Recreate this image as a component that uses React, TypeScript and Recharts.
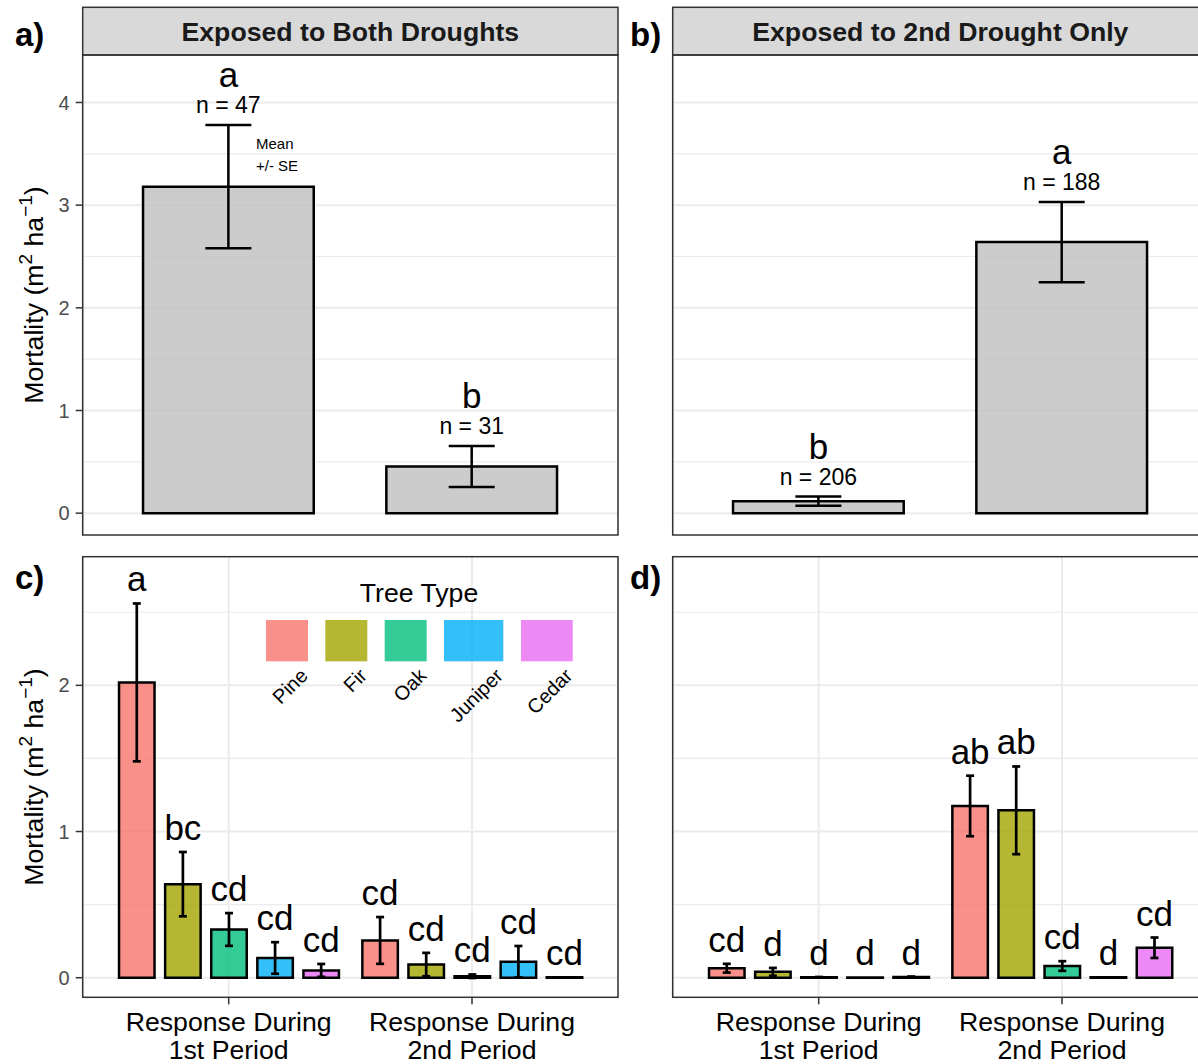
import React from "react";
import { Bar, BarChart, CartesianGrid, ErrorBar, LabelList, XAxis, YAxis } from "recharts";

const FONT = "'Liberation Sans', Arial, Helvetica, sans-serif";

// ---- data ----
const periods = ["Response During\n1st Period", "Response During\n2nd Period"];
const stripTitles = ["Exposed to Both Droughts", "Exposed to 2nd Drought Only"];
const panelTags = ["a)", "b)", "c)", "d)"];
const treeTypes = ["Pine", "Fir", "Oak", "Juniper", "Cedar"];
const treeColors = ["#F8766D", "#A3A500", "#00BF7D", "#00B0F6", "#E76BF3"];

// all trees pooled
const bothMean = [3.18, 0.455];
const bothSe = [0.6, 0.2];
const bothN = [47, 31];
const bothLetters = ["a", "b"];

const secondMean = [0.117, 2.64];
const secondSe = [0.045, 0.39];
const secondN = [206, 188];
const secondLetters = ["b", "a"];

// by tree type, one row per period
const bothTreeMean = [
  [2.02, 0.64, 0.33, 0.135, 0.05],
  [0.255, 0.09, 0.01, 0.11, 0.003],
];
const bothTreeSe = [
  [0.54, 0.22, 0.112, 0.108, 0.044],
  [0.16, 0.08, 0.012, 0.107, 0],
];
const bothTreeLetters = [
  ["a", "bc", "cd", "cd", "cd"],
  ["cd", "cd", "cd", "cd", "cd"],
];

const secondTreeMean = [
  [0.065, 0.04, 0.003, 0.002, 0.005],
  [1.175, 1.145, 0.08, 0.003, 0.205],
];
const secondTreeSe = [
  [0.03, 0.027, 0.002, 0, 0.003],
  [0.207, 0.3, 0.033, 0, 0.07],
];
const secondTreeLetters = [
  ["cd", "d", "d", "d", "d"],
  ["ab", "ab", "cd", "d", "cd"],
];

// ---- layout ----
const W = 1220;
const H = 1064;
const AXIS_W = 60;
const AXIS_H = 30;
const COLS = [
  { left: 82.7, right: 618 },
  { left: 672.7, right: 1208 },
];
const ROWS = [
  { top: 55, bottom: 535, domain: [-0.2125, 4.4625], ticks: [0, 1, 2, 3, 4], minor: [0.5, 1.5, 2.5, 3.5] },
  { top: 556.7, bottom: 997.3, domain: [-0.134, 2.88], ticks: [0, 1, 2], minor: [0.5, 1.5, 2.5] },
];
const ppu = (r: (typeof ROWS)[number]) => (r.bottom - r.top) / (r.domain[1] - r.domain[0]);
const BAND_PAD = ((COLS[0].right - COLS[0].left) * 0.1) / 2.2;
const STRIP_TOP = 7.3;
const legendKeys = [
  { x: 266, w: 42 },
  { x: 325.3, w: 42 },
  { x: 384.7, w: 42 },
  { x: 444, w: 59.3 },
  { x: 521, w: 51.7 },
];

const pooled = (means: number[], ses: number[], ns: number[], letters: string[]) =>
  periods.map((p, i) => ({ period: p, mean: means[i], se: ses[i], lab: `${letters[i]}|${ses[i]}|${ns[i]}` }));

const byTree = (means: number[][], ses: number[][], letters: string[][]) =>
  periods.map((p, i) => {
    const row: Record<string, any> = { period: p };
    treeTypes.forEach((t, j) => {
      row[t] = means[i][j];
      row[`${t}_se`] = ses[i][j];
      row[`${t}_lab`] = `${letters[i][j]}|${ses[i][j]}`;
    });
    return row;
  });

const PeriodTick = ({ x, y, payload }: any) => (
  <text x={x} y={y} textAnchor="middle" fontSize={26.67} fill="#000" fontFamily={FONT}>
    {String(payload.value)
      .split("\n")
      .map((line, i) => (
        <tspan key={i} x={x} dy={i === 0 ? 24.4 : 28.3}>
          {line}
        </tspan>
      ))}
  </text>
);

const pooledLabel = (scale: number) => (props: any) => {
  const vb = props.viewBox ?? props;
  const [letter, se, n] = String(props.value).split("|");
  const cx = vb.x + vb.width / 2;
  const top = Math.min(vb.y, vb.y + vb.height) - Number(se) * scale;
  return (
    <g>
      <text x={cx} y={top - 38} textAnchor="middle" fontSize={35} fontFamily={FONT} fill="#000">
        {letter}
      </text>
      <text x={cx} y={top - 12} textAnchor="middle" fontSize={23} fontFamily={FONT} fill="#000">
        {`n = ${n}`}
      </text>
    </g>
  );
};

const treeLabel = (scale: number) => (props: any) => {
  const vb = props.viewBox ?? props;
  const [letter, se] = String(props.value).split("|");
  const cx = vb.x + vb.width / 2;
  const top = Math.min(vb.y, vb.y + vb.height) - Number(se) * scale;
  return (
    <text x={cx} y={top - 12} textAnchor="middle" fontSize={35} fontFamily={FONT} fill="#000">
      {letter}
    </text>
  );
};

type PanelProps = { col: number; row: number; data: any[]; children: React.ReactNode; barGap?: number };

const Panel = ({ col, row, data, children, barGap }: PanelProps) => {
  const c = COLS[col];
  const r = ROWS[row];
  const showY = col === 0;
  const yW = showY ? AXIS_W : 0;
  return (
    <div style={{ position: "absolute", left: 0, top: 0 }}>
      <BarChart
        width={W}
        height={H}
        data={data}
        barGap={barGap}
        margin={{ top: r.top, bottom: H - r.bottom - AXIS_H, left: c.left - yW, right: W - c.right }}
      >
        <CartesianGrid stroke="#EBEBEB" strokeWidth={1.2} vertical={false} horizontalValues={r.minor} />
        <CartesianGrid stroke="#EBEBEB" strokeWidth={2} horizontalValues={r.ticks} />
        <XAxis
          dataKey="period"
          type="category"
          interval={0}
          padding={{ left: BAND_PAD, right: BAND_PAD }}
          axisLine={false}
          tickLine={{ stroke: "#333333", strokeWidth: 1.5 }}
          tickSize={7}
          tickMargin={2}
          height={AXIS_H}
          tick={row === 1 ? <PeriodTick /> : false}
        />
        <YAxis
          type="number"
          domain={r.domain}
          ticks={r.ticks}
          allowDataOverflow
          hide={!showY}
          width={yW}
          axisLine={false}
          tickLine={{ stroke: "#333333", strokeWidth: 1.5 }}
          tickSize={7}
          tickMargin={6}
          tick={{ fontSize: 20, fill: "#4D4D4D", fontFamily: FONT }}
        />
        {children}
      </BarChart>
    </div>
  );
};

const pooledBars = (row: number) => (
  <Bar
    dataKey="mean"
    fill="#BFBFBF"
    fillOpacity={0.8}
    stroke="#000"
    strokeWidth={2.5}
    barSize={170.7}
    isAnimationActive={false}
  >
    <ErrorBar dataKey="se" width={23} stroke="#000" strokeWidth={2.5} direction="y" isAnimationActive={false} />
    <LabelList dataKey="lab" content={pooledLabel(ppu(ROWS[row]))} />
  </Bar>
);

const treeBars = (row: number) =>
  treeTypes.map((t, j) => (
    <Bar
      key={t}
      dataKey={t}
      fill={treeColors[j]}
      fillOpacity={0.8}
      stroke="#000"
      strokeWidth={2.5}
      barSize={35.5}
      isAnimationActive={false}
    >
      <ErrorBar dataKey={`${t}_se`} width={4} stroke="#000" strokeWidth={2.7} direction="y" isAnimationActive={false} />
      <LabelList dataKey={`${t}_lab`} content={treeLabel(ppu(ROWS[row]))} />
    </Bar>
  ));

const YTitle = ({ cy }: { cy: number }) => (
  <text transform={`translate(43, ${cy}) rotate(-90)`} textAnchor="middle" fontSize={26.67} fill="#000">
    Mortality (m
    <tspan dy={-11} fontSize={19}>
      2
    </tspan>
    <tspan dy={11}> ha</tspan>
    <tspan dy={-11} fontSize={19}>
      {"\u2212"}1
    </tspan>
    <tspan dy={11}>)</tspan>
  </text>
);

export default function App() {
  return (
    <div style={{ position: "absolute", left: 0, top: 0, width: 1198, height: 1064, overflow: "hidden", background: "#fff" }}>
      <Panel col={0} row={0} data={pooled(bothMean, bothSe, bothN, bothLetters)}>
        {pooledBars(0)}
      </Panel>
      <Panel col={1} row={0} data={pooled(secondMean, secondSe, secondN, secondLetters)}>
        {pooledBars(0)}
      </Panel>
      <Panel col={0} row={1} data={byTree(bothTreeMean, bothTreeSe, bothTreeLetters)} barGap={10.6}>
        {treeBars(1)}
      </Panel>
      <Panel col={1} row={1} data={byTree(secondTreeMean, secondTreeSe, secondTreeLetters)} barGap={10.6}>
        {treeBars(1)}
      </Panel>

      <svg
        width={1198}
        height={1064}
        style={{ position: "absolute", left: 0, top: 0, pointerEvents: "none" }}
        fontFamily={FONT}
      >
        {/* facet strips */}
        {COLS.map((c, i) => (
          <g key={`strip-${i}`}>
            <rect
              x={c.left}
              y={STRIP_TOP}
              width={c.right - c.left}
              height={ROWS[0].top - STRIP_TOP}
              fill="#D9D9D9"
              stroke="#333333"
              strokeWidth={1.5}
            />
            <text x={(c.left + c.right) / 2} y={40.5} textAnchor="middle" fontSize={26.67} fontWeight="bold" fill="#1A1A1A">
              {stripTitles[i]}
            </text>
          </g>
        ))}

        {/* panel borders and tags */}
        {ROWS.map((r, ri) =>
          COLS.map((c, ci) => (
            <g key={`panel-${ri}-${ci}`}>
              <rect x={c.left} y={r.top} width={c.right - c.left} height={r.bottom - r.top} fill="none" stroke="#333333" strokeWidth={1.5} />
              <text x={ci === 0 ? 15 : 630} y={ri === 0 ? 46 : 589} fontSize={33} fontWeight="bold" fill="#000">
                {panelTags[ri * 2 + ci]}
              </text>
            </g>
          ))
        )}

        <YTitle cy={(ROWS[0].top + ROWS[0].bottom) / 2} />
        <YTitle cy={(ROWS[1].top + ROWS[1].bottom) / 2} />

        <text x={256} y={149.3} fontSize={15} fill="#000">
          Mean
        </text>
        <text x={256} y={171} fontSize={15} fill="#000">
          +/- SE
        </text>

        {/* tree type legend */}
        <text x={419} y={601.7} textAnchor="middle" fontSize={26.67} fill="#000">
          Tree Type
        </text>
        {treeTypes.map((t, j) => (
          <g key={t}>
            <rect x={legendKeys[j].x} y={620} width={legendKeys[j].w} height={41.3} fill={treeColors[j]} fillOpacity={0.8} />
            <text
              transform={`translate(${legendKeys[j].x + legendKeys[j].w + 1}, 677) rotate(-45)`}
              textAnchor="end"
              fontSize={20}
              fill="#000"
            >
              {t}
            </text>
          </g>
        ))}
      </svg>
    </div>
  );
}
